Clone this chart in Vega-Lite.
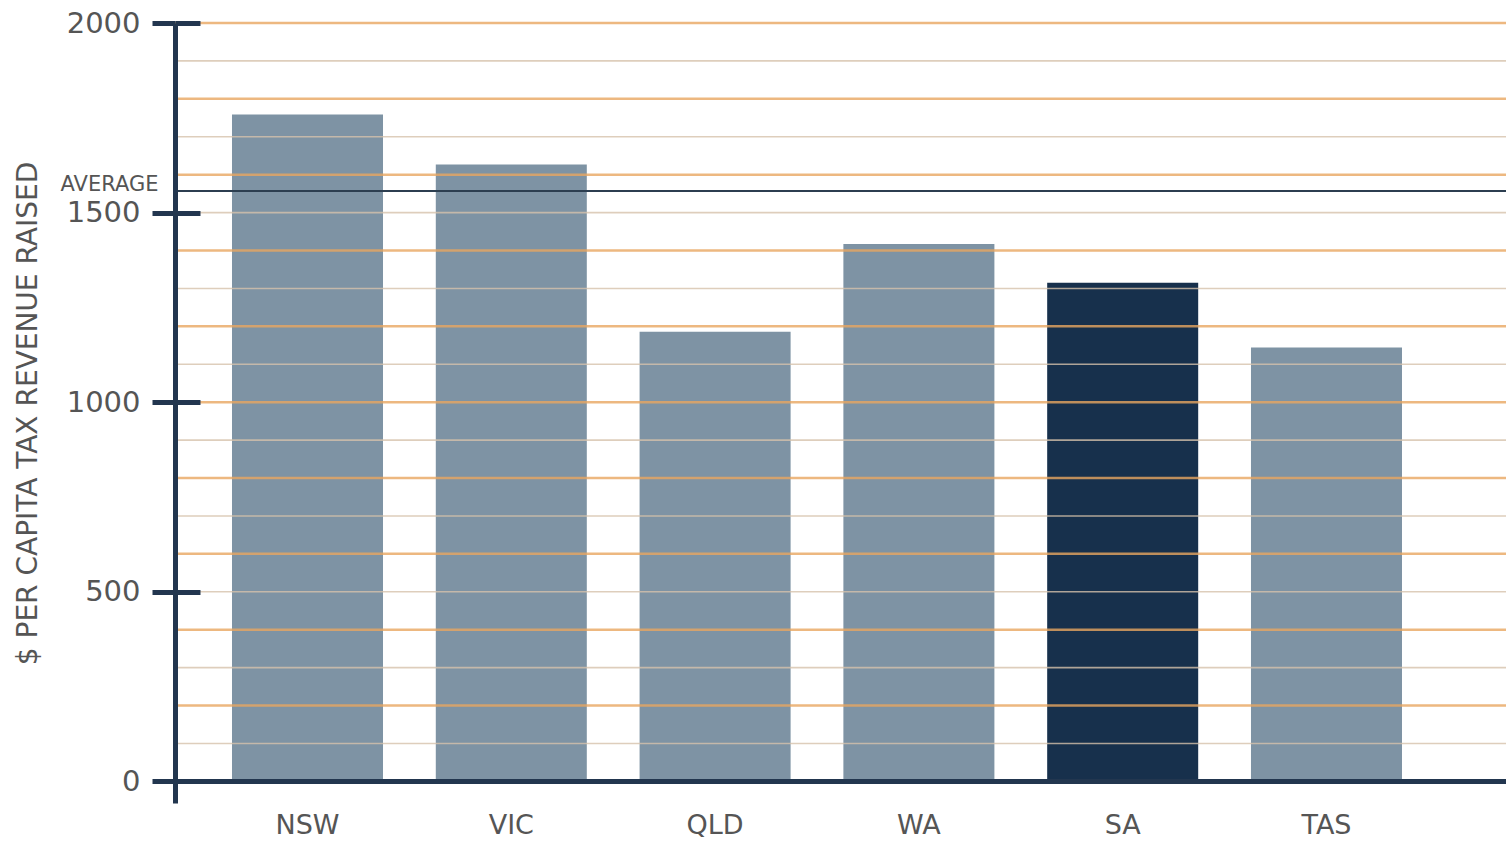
{
  "$schema": "https://vega.github.io/schema/vega-lite/v6.json",
  "autosize": "none",
  "width": 1331,
  "height": 780,
  "padding": {"left": 175, "top": 23, "right": 0, "bottom": 38},
  "background": "#ffffff",
  "config": {"view": {"stroke": null}},
  "datasets": {
    "states": [
      {"state": "NSW", "revenue": 1759},
      {"state": "VIC", "revenue": 1627},
      {"state": "QLD", "revenue": 1186},
      {"state": "WA", "revenue": 1417},
      {"state": "SA", "revenue": 1315},
      {"state": "TAS", "revenue": 1144}
    ],
    "grid": [
      {"v": 100}, {"v": 200}, {"v": 300}, {"v": 400}, {"v": 500},
      {"v": 600}, {"v": 700}, {"v": 800}, {"v": 900}, {"v": 1000},
      {"v": 1100}, {"v": 1200}, {"v": 1300}, {"v": 1400}, {"v": 1500},
      {"v": 1600}, {"v": 1700}, {"v": 1800}, {"v": 1900}, {"v": 2000}
    ],
    "average": [{"avg": 1557}],
    "baseline": [{"base": 0}]
  },
  "resolve": {"axis": {"y": "independent"}},
  "layer": [
    {
      "data": {"name": "states"},
      "mark": {"type": "bar"},
      "encoding": {
        "x": {
          "field": "state",
          "type": "nominal",
          "sort": null,
          "scale": {"paddingInner": 0.259, "paddingOuter": 0.395, "align": 0.354},
          "axis": {
            "title": null,
            "domain": false,
            "ticks": false,
            "labelAngle": 0,
            "labelFont": "DejaVu Sans",
            "labelFontSize": 27,
            "labelColor": "#555555",
            "labelPadding": 9
          }
        },
        "y": {
          "field": "revenue",
          "type": "quantitative",
          "scale": {"domain": [-57, 2000], "nice": false, "zero": false},
          "axis": {
            "orient": "left",
            "zindex": 1,
            "values": [0, 500, 1000, 1500, 1557, 2000],
            "format": "d",
            "labelExpr": "datum.value == 1557 ? 'AVERAGE' : datum.label",
            "title": "$ PER CAPITA TAX REVENUE RAISED",
            "titleFont": "DejaVu Sans",
            "titleFontSize": 28,
            "titleFontWeight": "normal",
            "titleColor": "#555555",
            "titlePadding": 18,
            "labelFont": "DejaVu Sans",
            "labelColor": "#555555",
            "labelFontSize": {"condition": {"test": "datum.value == 1557", "value": 21}, "value": 29},
            "labelPadding": {"condition": {"test": "datum.value == 1557", "value": -6}, "value": 12},
            "labelBaseline": {"condition": {"test": "datum.value == 1557", "value": "alphabetic"}, "value": "middle"},
            "labelOverlap": false,
            "labelFlush": false,
            "labelBound": false,
            "tickSize": 23,
            "tickWidth": 5,
            "tickColor": {"condition": {"test": "datum.value == 1557", "value": "transparent"}, "value": "#22364f"},
            "domainColor": "#22364f",
            "domainWidth": 5,
            "grid": false
          }
        },
        "y2": {"datum": 0},
        "color": {
          "condition": {"test": "datum.state === 'SA'", "value": "#17304c"},
          "value": "#7e93a4"
        }
      }
    },
    {
      "data": {"name": "grid"},
      "mark": {"type": "rule", "opacity": 0.8},
      "encoding": {
        "y": {
          "field": "v",
          "type": "quantitative",
          "scale": {"domain": [-57, 2000], "nice": false, "zero": false},
          "axis": {
            "orient": "left",
            "zindex": 1,
            "values": [500, 1000, 1500, 2000],
            "labels": false,
            "domain": false,
            "title": null,
            "grid": false,
            "tickSize": -25,
            "tickWidth": 5,
            "tickColor": "#22364f"
          }
        },
        "color": {
          "condition": {"test": "datum.v % 200 == 0", "value": "#e8a660"},
          "value": "#d6c2ab"
        },
        "strokeWidth": {
          "condition": {"test": "datum.v % 200 == 0", "value": 2.5},
          "value": 1.6
        }
      }
    },
    {
      "data": {"name": "average"},
      "mark": {"type": "rule", "color": "#2c3e50", "strokeWidth": 2},
      "encoding": {
        "y": {
          "field": "avg",
          "type": "quantitative",
          "scale": {"domain": [-57, 2000], "nice": false, "zero": false},
          "axis": null
        }
      }
    },
    {
      "data": {"name": "baseline"},
      "mark": {"type": "rule", "color": "#22364f", "strokeWidth": 5},
      "encoding": {
        "y": {
          "field": "base",
          "type": "quantitative",
          "scale": {"domain": [-57, 2000], "nice": false, "zero": false},
          "axis": null
        }
      }
    }
  ]
}
